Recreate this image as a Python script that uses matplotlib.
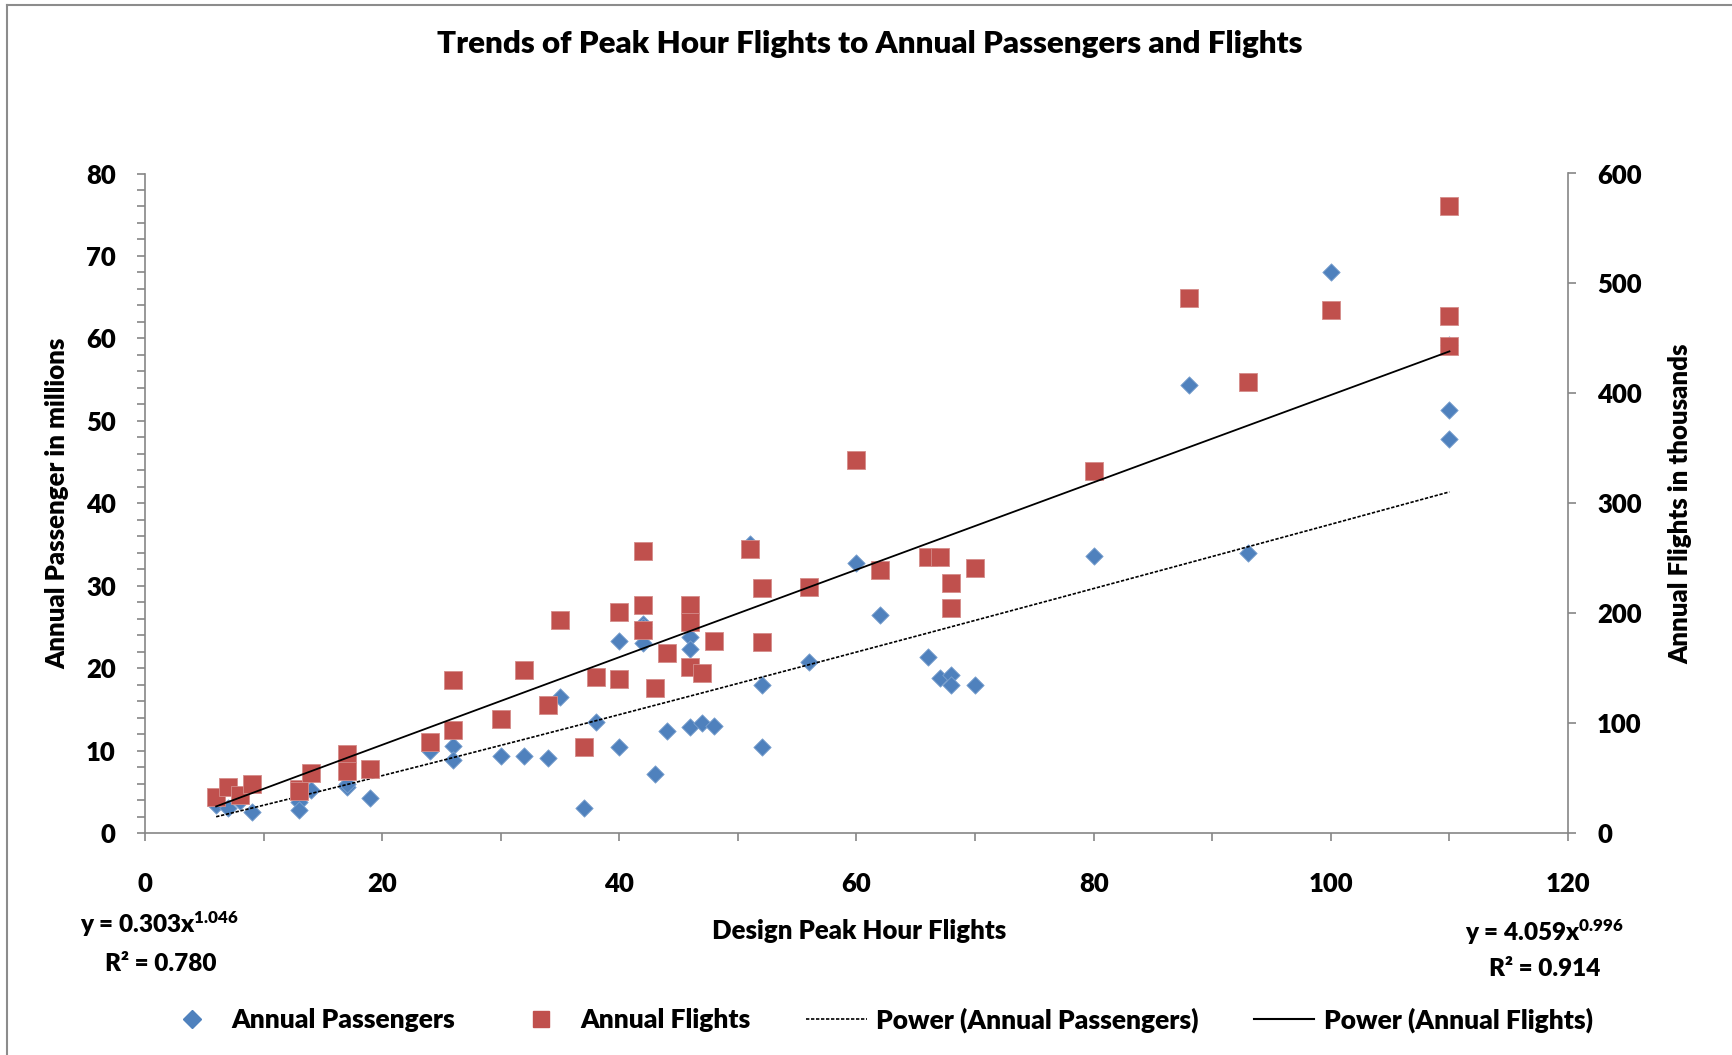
import numpy as np
import matplotlib
matplotlib.use("Agg")
import matplotlib.pyplot as plt
from matplotlib.lines import Line2D

# Airport data: design peak hour flights vs annual traffic
peak_hour = [6, 7, 8, 9, 13, 13, 14, 17, 17, 19, 24, 26, 26, 30, 32, 34, 35, 37, 38,
             40, 40, 42, 42, 42, 43, 44, 46, 46, 46, 47, 48, 51, 52, 52, 56, 60, 62,
             66, 67, 68, 68, 70, 80, 88, 93, 100, 110, 110, 110]
passengers = [3.4, 3.0, 3.9, 2.6, 3.8, 2.8, 5.2, 5.6, 5.9, 4.3, 9.9, 10.6, 8.8, 9.3,
              9.3, 9.1, 16.5, 3.0, 13.5, 23.3, 10.4, 25.4, 23.1, 25.0, 7.2, 12.4, 23.8,
              22.3, 12.8, 13.4, 13.0, 35.1, 17.9, 10.4, 20.8, 32.8, 26.4, 21.4, 18.8,
              19.2, 18.0, 18.0, 33.6, 54.3, 34.0, 68.1, 51.3, 47.8, 59.2]
flights = [33, 42, 35, 45, 40, 38, 55, 72, 56, 58, 83, 139, 94, 104, 148, 116, 194, 78,
           142, 201, 140, 257, 207, 185, 132, 164, 207, 192, 151, 146, 175, 258, 223,
           174, 224, 339, 239, 251, 251, 227, 205, 241, 329, 487, 410, 476, 570, 470, 443]

# power trendline coefficients (y = a * x^b) and R squared
pax_fit = (0.303, 1.046, 0.780)
flt_fit = (4.059, 0.996, 0.914)

BLUE = "#4F81BD"
RED = "#C0504D"
GRAY = "#868686"
WEIGHT = "heavy"

plt.rcParams["font.family"] = ["Lato", "DejaVu Sans"]
plt.rcParams["font.weight"] = WEIGHT
plt.rcParams["mathtext.fontset"] = "custom"
plt.rcParams["mathtext.rm"] = "Lato:heavy"
plt.rcParams["mathtext.it"] = "Lato:heavy"
plt.rcParams["mathtext.bf"] = "Lato:heavy"

W, H = 1733, 1055
fig = plt.figure(figsize=(W / 100, H / 100), dpi=100)
ax = fig.add_axes([145 / W, 1 - 833 / H, 1423 / W, 659.5 / H])
ax2 = ax.twinx()

# scatter points
ax.scatter(peak_hour, passengers, marker="D", s=78, color=BLUE,
           edgecolors="#7da2cf", linewidths=0.6, zorder=3)
ax2.scatter(peak_hour, flights, marker="s", s=150, color=RED,
            edgecolors="#d58c8a", linewidths=0.6, zorder=3)

# power trendlines
xs = np.linspace(min(peak_hour), max(peak_hour), 200)
ax.plot(xs, pax_fit[0] * xs ** pax_fit[1], color="black", lw=1.2,
        linestyle=(0, (2, 1)), zorder=4)
ax2.plot(xs, flt_fit[0] * xs ** flt_fit[1], color="black", lw=1.3, zorder=4)

# axes limits and ticks
ax.set_xlim(0, 120)
ax.set_ylim(0, 80)
ax2.set_ylim(0, 600)
ax.set_xticks(np.arange(0, 121, 20))
ax.set_xticks(np.arange(0, 121, 10), minor=True)
ax.set_yticks(np.arange(0, 81, 10))
ax.set_yticks(np.arange(0, 81, 2), minor=True)
ax2.set_yticks(np.arange(0, 601, 100))

for a in (ax, ax2):
    a.spines["top"].set_visible(False)
    for sp in a.spines.values():
        sp.set_color(GRAY)
        sp.set_linewidth(1.2)
ax.spines["right"].set_visible(False)
ax2.spines["left"].set_visible(False)
ax2.spines["bottom"].set_visible(False)

ax.tick_params(axis="x", which="both", direction="out", length=6, width=1.2,
               color=GRAY, labelsize=18.5, pad=22)
ax.tick_params(axis="y", which="both", direction="out", length=6, width=1.2,
               color=GRAY, labelsize=18.5, pad=15)
ax2.tick_params(axis="y", which="both", direction="out", length=6, width=1.2,
                color=GRAY, labelsize=18.5, pad=15)

# axis titles
ax.set_xlabel("Design Peak Hour Flights", fontsize=18.5, fontweight=WEIGHT)
ax.xaxis.label.set_va("center")
ax.xaxis.set_label_coords(0.5018, -0.1486)
ax.set_ylabel("Annual Passenger in millions", fontsize=18.5, fontweight=WEIGHT)
ax.yaxis.label.set_va("center")
ax.yaxis.set_label_coords(-0.0615, 0.5)
ax2.set_ylabel("Annual Flights in thousands", fontsize=18.5, fontweight=WEIGHT)
ax2.yaxis.label.set_va("center")
ax2.yaxis.set_label_coords(1.0787, 0.5)

fig.text(870 / W, 1 - 44 / H,
         "Trends of Peak Hour Flights to Annual Passengers and Flights",
         ha="center", va="center", fontsize=22.5, fontweight=WEIGHT)

# trendline equations
fig.text(80 / W, 1 - 924 / H, "y = %.3fx$^{%.3f}$" % pax_fit[:2],
         ha="left", va="center", fontsize=17.5, fontweight=WEIGHT)
fig.text(105 / W, 1 - 964 / H, "R² = %.3f" % pax_fit[2],
         ha="left", va="center", fontsize=17.5, fontweight=WEIGHT)
fig.text(1624 / W, 1 - 932 / H, "y = %.3fx$^{%.3f}$" % flt_fit[:2],
         ha="right", va="center", fontsize=17.5, fontweight=WEIGHT)
fig.text(1600 / W, 1 - 969 / H, "R² = %.3f" % flt_fit[2],
         ha="right", va="center", fontsize=17.5, fontweight=WEIGHT)

# legend
handles = [
    Line2D([], [], marker="D", color=BLUE, linestyle="none", markersize=9),
    Line2D([], [], marker="s", color=RED, linestyle="none", markersize=12),
    Line2D([], [], color="black", lw=1.2, linestyle=(0, (2, 1))),
    Line2D([], [], color="black", lw=1.5),
]
labels = ["Annual Passengers", "Annual Flights",
          "Power (Annual Passengers)", "Power (Annual Flights)"]
fig.legend(handles, labels, loc="center", bbox_to_anchor=(877 / W, 1 - 1020 / H),
           ncol=4, frameon=False, fontsize=19, handlelength=2.3,
           handletextpad=0.35, columnspacing=2.1)

# chart border
fig.add_artist(Line2D([7 / W, 7 / W], [0, 1 - 5 / H], color="#8c8c8c", lw=1.5))
fig.add_artist(Line2D([7 / W, 1], [1 - 5 / H, 1 - 5 / H], color="#8c8c8c", lw=1.5))

fig.savefig("out.png", dpi=100)
